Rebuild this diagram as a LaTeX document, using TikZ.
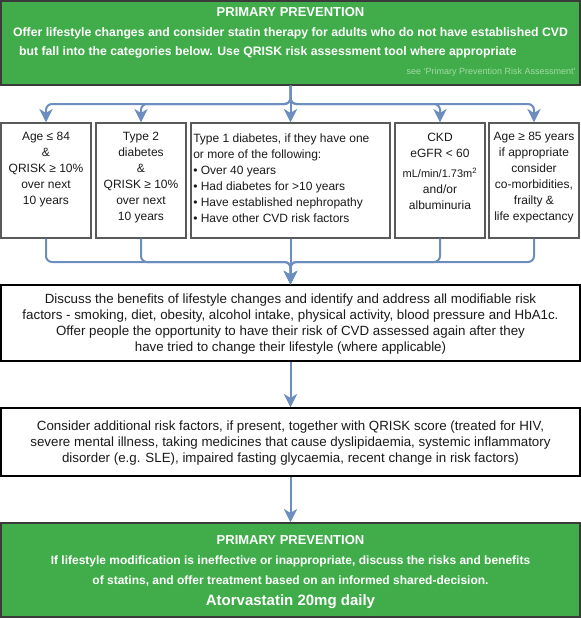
\documentclass[tikz,border=0pt]{standalone}
\usepackage{fontspec}
\setmainfont{Liberation Sans}
\usetikzlibrary{arrows.meta}
\definecolor{gfill}{HTML}{40AD4A}
\definecolor{gline}{HTML}{3A3A3A}
\definecolor{connc}{HTML}{6C8EBF}
\definecolor{seegreen}{HTML}{A5D9A5}
\definecolor{rowline}{HTML}{5A5A5A}
\definecolor{txtc}{HTML}{1A1A1A}
\begin{document}
\begin{tikzpicture}[x=0.75pt,y=-0.75pt,
  box/.style={rectangle, inner sep=0pt},
  greenbox/.style={box, draw=gline, fill=gfill, line width=1.1pt},
  rowbox/.style={box, draw=rowline, fill=white, line width=1.1pt},
  whitebox/.style={box, draw=black, fill=white, line width=1.1pt},
  txt/.style={inner sep=0pt, align=center, text=txtc, font=\fontsize{9}{12}\selectfont},
  wtxt/.style={inner sep=0pt, align=center, text=txtc, font=\fontsize{10}{12}\selectfont},
  gtxt/.style={inner sep=0pt, align=center, text=white, font=\bfseries\fontsize{9.2}{14.6}\selectfont},
  conn/.style={draw=connc, line width=1.5pt, rounded corners=4.5pt,
    -{Stealth[length=10pt,width=10pt,inset=3pt]}}]
\useasboundingbox (0,0) rectangle (581,619);

% boxes
\node[greenbox, minimum width={579*0.75pt}, minimum height={84*0.75pt}] (top) at (290.5,43) {};
\node[rowbox, minimum width={90*0.75pt}, minimum height={115*0.75pt}] (b1) at (46,180.5) {};
\node[rowbox, minimum width={90*0.75pt}, minimum height={115*0.75pt}] (b2) at (141,180.5) {};
\node[rowbox, minimum width={199*0.75pt}, minimum height={115*0.75pt}] (b3) at (290.5,180.5) {};
\node[rowbox, minimum width={90*0.75pt}, minimum height={115*0.75pt}] (b4) at (440,180.5) {};
\node[rowbox, minimum width={90*0.75pt}, minimum height={115*0.75pt}] (b5) at (534,180.5) {};
\node[whitebox, minimum width={579*0.75pt}, minimum height={76*0.75pt}] (disc) at (290.5,323) {};
\node[whitebox, minimum width={579*0.75pt}, minimum height={68*0.75pt}] (cons) at (290.5,442) {};
\node[greenbox, minimum width={579*0.75pt}, minimum height={94*0.75pt}] (bot) at (290.5,570) {};

% texts
\node[gtxt] (toptxt) at (290.5,33) {{\fontsize{9.75}{14.6}\selectfont PRIMARY PREVENTION}\\
Offer lifestyle changes and consider statin therapy for adults who do not have established CVD\\
but fall into the categories below. Use QRISK risk assessment tool where appropriate\rule{34pt}{0pt}};
\node[inner sep=0pt, anchor=east, text=seegreen, font=\fontsize{6.75}{8}\selectfont] (see) at (576,72.5) {see `Primary Prevention Risk Assessment'};

\node[txt] (t1) at (46,170) {Age ≤ 84\\\&\\QRISK ≥ 10\%\\over next\\10 years};
\node[txt] (t2) at (141,178) {Type 2\\diabetes\\\&\\QRISK ≥ 10\%\\over next\\10 years};
\node[txt, align=left, anchor=west] (t3) at (193,178) {Type 1 diabetes, if they have one\\or more of the following:\\• Over 40 years\\• Had diabetes for >10 years\\• Have established nephropathy\\• Have other CVD risk factors};
\node[txt] (t4) at (440,171.5) {CKD\\eGFR < 60\\[3pt]{\fontsize{8.25}{12}\selectfont mL/min/1.73m\textsuperscript{2}}\\and/or\\albuminuria};
\node[txt] (t5) at (534,178) {Age ≥ 85 years\\if appropriate\\consider\\co-morbidities,\\frailty \&\\life expectancy};

\node[wtxt] (disctxt) at (290.5,324.5) {Discuss the benefits of lifestyle changes and identify and address all modifiable risk\\
factors - smoking, diet, obesity, alcohol intake, physical activity, blood pressure and HbA1c.\\
Offer people the opportunity to have their risk of CVD assessed again after they\\
have tried to change their lifestyle (where applicable)};
\node[wtxt] (constxt) at (290.5,443) {Consider additional risk factors, if present, together with QRISK score (treated for HIV,\\
severe mental illness, taking medicines that cause dyslipidaemia, systemic inflammatory\\
disorder (e.g. SLE), impaired fasting glycaemia, recent change in risk factors)};

\node[gtxt, font=\bfseries\fontsize{9}{15}\selectfont] (bottxt) at (290.5,572) {{\fontsize{9.75}{15}\selectfont PRIMARY PREVENTION}\\
If lifestyle modification is ineffective or inappropriate, discuss the risks and benefits\\
of statins, and offer treatment based on an informed shared-decision.\\[1pt]
{\fontsize{11.25}{15}\selectfont Atorvastatin 20mg daily}};

% connectors
\coordinate (split) at (290.5,104);
\coordinate (merge) at (290.5,262);
\draw[conn] (top.south) -- (split) -| (b1.north);
\draw[conn] (top.south) -- (split) -| (b2.north);
\draw[conn] (top.south) -- (b3.north);
\draw[conn] (top.south) -- (split) -| (b4.north);
\draw[conn] (top.south) -- (split) -| (b5.north);
\draw[conn] (b1.south) |- (merge) -- (disc.north);
\draw[conn] (b2.south) |- (merge) -- (disc.north);
\draw[conn] (b3.south) -- (disc.north);
\draw[conn] (b4.south) |- (merge) -- (disc.north);
\draw[conn] (b5.south) |- (merge) -- (disc.north);
\draw[conn] (disc.south) -- (cons.north);
\draw[conn] (cons.south) -- (bot.north);
\end{tikzpicture}
\end{document}
